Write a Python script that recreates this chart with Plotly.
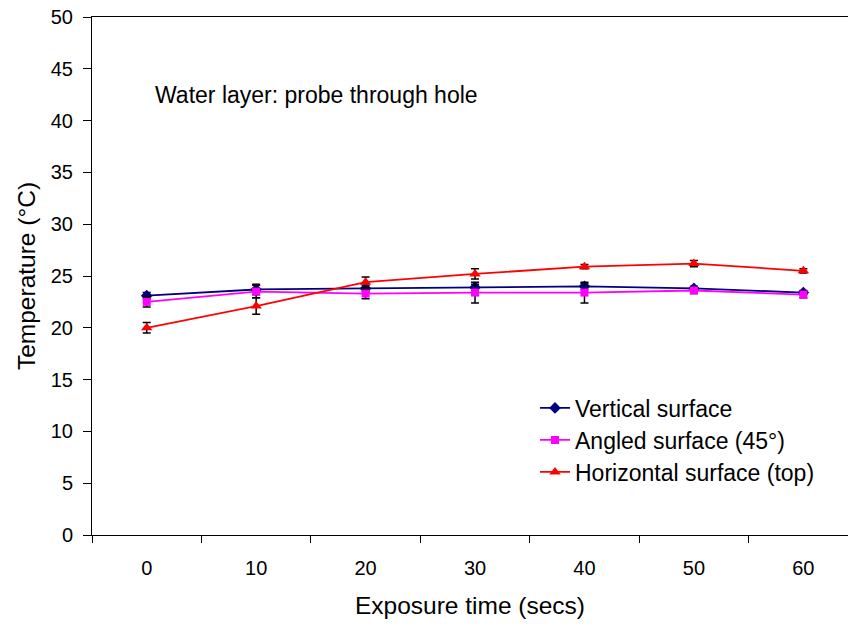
import plotly.graph_objects as go

times = [0, 10, 20, 30, 40, 50, 60]
vertical = [23.1, 23.7, 23.8, 23.9, 24.0, 23.8, 23.4]
vertical_err = [0.3, 0.5, 0.3, 0.3, 0.3, 0.2, 0.2]
angled = [22.5, 23.5, 23.3, 23.4, 23.4, 23.6, 23.2]
angled_err = [0.5, 0.6, 0.5, 1.0, 1.0, 0.3, 0.3]
horizontal = [20.0, 22.1, 24.4, 25.2, 25.9, 26.2, 25.5]
horizontal_err = [0.5, 0.8, 0.5, 0.5, 0.2, 0.3, 0.2]

W, H = 848, 628
L, T, B = 92, 17, 535
FONT = "Liberation Sans, Arial, sans-serif"

fig = go.Figure()

series = [
    ("Vertical surface", vertical, vertical_err, "#000080", "diamond", 9, "legend"),
    ("Angled surface (45°)", angled, angled_err, "#FF00FF", "square", 8, "legend2"),
    ("Horizontal surface (top)", horizontal, horizontal_err, "#FF0000", "triangle-up", 10, "legend3"),
]

for name, vals, errs, color, sym, size, lg in series:
    fig.add_trace(go.Scatter(
        x=times, y=vals, name=name, mode="lines+markers",
        line=dict(color=color, width=1.8),
        marker=dict(symbol=sym, size=size, color=color),
        error_y=dict(type="data", array=errs, visible=True, color="black",
                     thickness=1.5, width=4),
        legend=lg,
    ))

def px_x(p):
    return (p - L) / (W - L)

def px_y(p):
    return (B - p) / (B - T)

leg_common = dict(font=dict(family=FONT, size=23, color="black"),
                  bgcolor="rgba(0,0,0,0)", borderwidth=0,
                  xref="paper", yref="paper",
                  xanchor="left", yanchor="middle", itemwidth=30)
ys = [408, 440, 472]
lx = px_x(535)
fig.update_layout(
    legend=dict(x=lx, y=px_y(ys[0]), **leg_common),
    legend2=dict(x=lx, y=px_y(ys[1]), **leg_common),
    legend3=dict(x=lx, y=px_y(ys[2]), **leg_common),
)

fig.update_layout(
    width=W, height=H,
    margin=dict(l=L, r=0, t=T, b=H - B),
    paper_bgcolor="white", plot_bgcolor="white",
    font=dict(family=FONT, size=20, color="black"),
    showlegend=True,
    xaxis=dict(
        range=[-5, 64.08],
        tickvals=times, ticktext=[str(t) for t in times],
        ticks="", showgrid=False, zeroline=False,
        showline=True, linecolor="black", linewidth=1, mirror=True,
        tickfont=dict(size=20),
        minor=dict(tick0=-5, dtick=10, ticks="outside", ticklen=7,
                   tickcolor="black", tickwidth=1, showgrid=False),
        title=dict(text="Exposure time (secs)", font=dict(size=24.5), standoff=18),
        ticklabelstandoff=15,
    ),
    yaxis=dict(
        range=[0, 50], dtick=5, tick0=0,
        ticks="outside", ticklen=8, tickcolor="black", tickwidth=1,
        showgrid=False, zeroline=False,
        showline=True, linecolor="black", linewidth=1,
        tickfont=dict(size=20),
        ticklabelstandoff=6,
        title=dict(text="Temperature (°C)", font=dict(size=24.5), standoff=8),
    ),
    annotations=[dict(
        text="Water layer: probe through hole", xref="paper", yref="paper",
        x=px_x(153), y=px_y(95),
        xanchor="left", yanchor="middle", showarrow=False,
        font=dict(family=FONT, size=23, color="black"),
    )],
)

fig.write_html("out.html")
